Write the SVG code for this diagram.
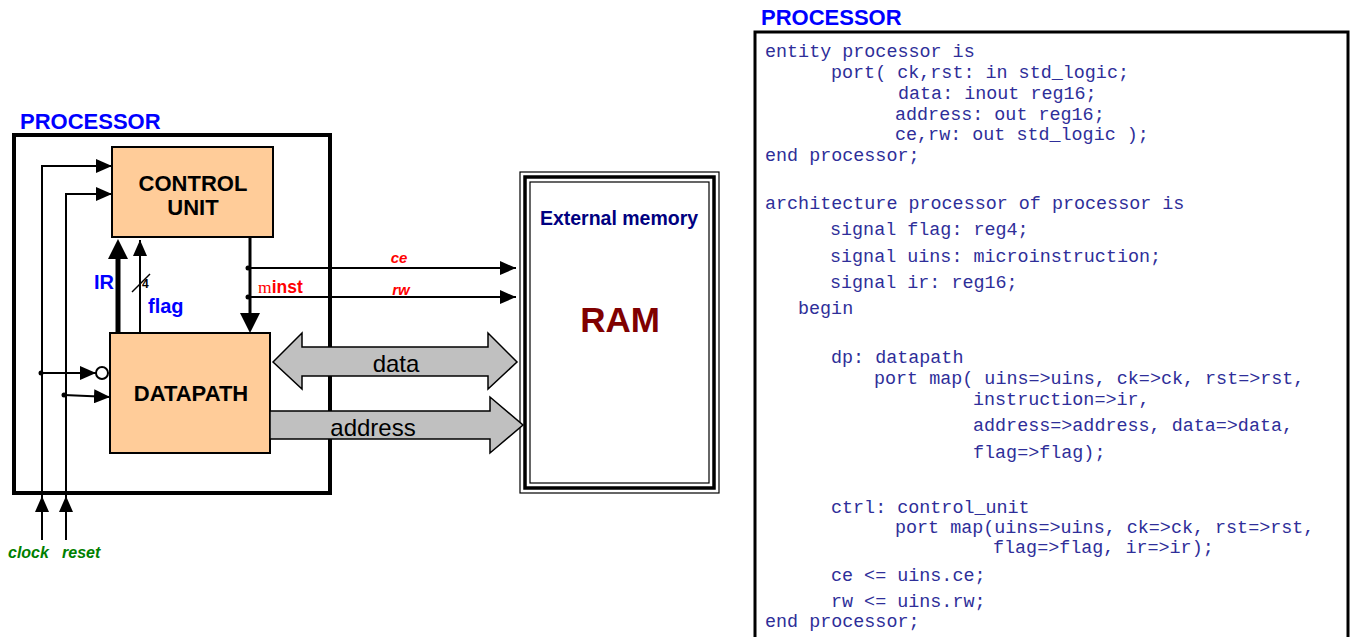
<svg xmlns="http://www.w3.org/2000/svg" width="1351" height="637" viewBox="0 0 1351 637">
  <style>
    .title { font-family: "Liberation Sans", Arial, sans-serif; font-weight: bold; font-size: 22px; fill: #0000FF; }
    .block { fill: #FFCC99; stroke: #000; stroke-width: 2; }
    .blocktxt { font-family: "Liberation Sans", Arial, sans-serif; font-weight: bold; font-size: 22px; fill: #000; text-anchor: middle; }
    .wire { fill: none; stroke: #000; stroke-width: 2; }
    .bus { fill: #C0C0C0; stroke: #000; stroke-width: 1.5; }
    .bustxt { font-family: "Liberation Sans", Arial, sans-serif; font-size: 24px; fill: #000; text-anchor: middle; }
    .sig { font-family: "Liberation Sans", Arial, sans-serif; font-weight: bold; font-style: italic; font-size: 15px; }
    .pin { font-family: "Liberation Sans", Arial, sans-serif; font-weight: bold; font-style: italic; font-size: 16px; fill: #008000; }
    .blue { font-family: "Liberation Sans", Arial, sans-serif; font-weight: bold; font-size: 20px; fill: #0000FF; }
    .code { font-family: "Liberation Mono", "Courier New", monospace; font-size: 18.4px; fill: #2E2E99; white-space: pre; }
  </style>
  <defs>
    <marker id="arr" viewBox="0 0 16 14" refX="16" refY="7" markerWidth="16" markerHeight="14" markerUnits="userSpaceOnUse" orient="auto">
      <path d="M0,0 L16,7 L0,14 Z" fill="#000"/>
    </marker>
  </defs>

  <rect width="1351" height="637" fill="#fff"/>

  <!-- processor outline -->
  <g id="processor">
    <text class="title" x="20" y="129">PROCESSOR</text>
    <rect x="14" y="135" width="316" height="358" fill="none" stroke="#000" stroke-width="4"/>
  </g>

  <!-- control unit -->
  <g id="control-unit">
    <rect class="block" x="112" y="147" width="161" height="90"/>
    <text class="blocktxt" x="193" y="191">CONTROL</text>
    <text class="blocktxt" x="193" y="215">UNIT</text>
  </g>

  <!-- datapath -->
  <g id="datapath">
    <rect class="block" x="110" y="333" width="160" height="120"/>
    <text class="blocktxt" x="191" y="401" font-size="23">DATAPATH</text>
  </g>

  <!-- external memory -->
  <g id="ram">
    <rect x="520" y="172" width="199" height="321" fill="#fff" stroke="#000" stroke-width="1.2"/>
    <rect x="525" y="177" width="189" height="311" fill="none" stroke="#000" stroke-width="3.5"/>
    <rect x="530" y="182" width="179" height="301" fill="none" stroke="#000" stroke-width="1.2"/>
    <text x="619" y="225" font-family="'Liberation Sans', Arial, sans-serif" font-weight="bold" font-size="19.5" fill="#000080" text-anchor="middle">External memory</text>
    <text x="620" y="332" font-family="'Liberation Sans', Arial, sans-serif" font-weight="bold" font-size="35" fill="#800000" text-anchor="middle">RAM</text>
  </g>

  <!-- connectors -->
  <g id="connectors">
    <!-- clock and reset into control unit -->
    <polyline class="wire" points="42,540 42,166 112,166" marker-end="url(#arr)"/>
    <polyline class="wire" points="66,540 66,194 112,194" marker-end="url(#arr)"/>
    <!-- external clock / reset entering the outline -->
    <line class="wire" x1="42" y1="540" x2="42" y2="496" marker-end="url(#arr)"/>
    <line class="wire" x1="66" y1="540" x2="66" y2="496" marker-end="url(#arr)"/>
    <!-- clock (inverted) and reset into datapath -->
    <line class="wire" x1="41" y1="373" x2="96" y2="373" marker-end="url(#arr)"/>
    <circle cx="102" cy="373" r="6" fill="#fff" stroke="#000" stroke-width="2"/>
    <circle cx="41" cy="373" r="2.5" fill="#000"/>
    <line class="wire" x1="64" y1="395" x2="110" y2="397" marker-end="url(#arr)"/>
    <circle cx="64" cy="395" r="2.5" fill="#000"/>

    <!-- IR bus (thick) -->
    <line x1="118" y1="333" x2="118" y2="256" stroke="#000" stroke-width="5"/>
    <path d="M108,259 L118,239 L128,259 Z" fill="#000"/>
    <text class="blue" x="94" y="289" font-size="19">IR</text>
    <!-- flag bus (4 bits) -->
    <line class="wire" x1="140" y1="333" x2="140" y2="240" marker-end="url(#arr)"/>
    <line x1="132" y1="292" x2="150" y2="274" stroke="#000" stroke-width="1.5"/>
    <text x="142" y="288" font-family="'Liberation Sans', Arial, sans-serif" font-weight="bold" font-size="12" fill="#000">4</text>
    <text class="blue" x="148" y="313">flag</text>

    <!-- microinstruction bus to datapath -->
    <line x1="250" y1="237" x2="250" y2="315" stroke="#000" stroke-width="3"/>
    <path d="M240,313 L250,333 L260,313 Z" fill="#000"/>
    <circle cx="248" cy="268" r="2.5" fill="#000"/>
    <circle cx="248" cy="297" r="2.5" fill="#000"/>
    <text x="258" y="293" font-size="17.5" fill="#FF0000"><tspan font-family="'Liberation Serif', serif">m</tspan><tspan font-family="'Liberation Sans', Arial, sans-serif" font-weight="bold">inst</tspan></text>

    <!-- ce / rw to memory -->
    <line class="wire" x1="248" y1="268" x2="516" y2="268" marker-end="url(#arr)"/>
    <line class="wire" x1="248" y1="297" x2="516" y2="297" marker-end="url(#arr)"/>
    <text class="sig" x="399" y="263" fill="#FF0000" text-anchor="middle">ce</text>
    <text class="sig" x="401" y="295" fill="#FF0000" text-anchor="middle">rw</text>

    <!-- data bus (bidirectional) -->
    <path class="bus" d="M273,362 L302,333 L302,347 L488,347 L488,333 L517,362 L488,389 L488,376 L302,376 L302,389 Z"/>
    <text class="bustxt" x="396" y="372">data</text>
    <!-- address bus -->
    <path class="bus" d="M270,411 L490,411 L490,397 L523,425 L490,453 L490,439 L270,439 Z"/>
    <text class="bustxt" x="373" y="436">address</text>
  </g>

  <!-- external pin labels -->
  <g id="pins">
    <text class="pin" x="8" y="558">clock</text>
    <text class="pin" x="62" y="558">reset</text>
  </g>

  <!-- VHDL listing -->
  <g id="vhdl">
    <text class="title" x="761" y="25">PROCESSOR</text>
    <rect x="755" y="32" width="593" height="610" fill="#fff" stroke="#000" stroke-width="3"/>
    <text class="code" x="765" y="57">entity processor is</text>
    <text class="code" x="831" y="78">port( ck,rst: in std_logic;</text>
    <text class="code" x="898" y="99">data: inout reg16;</text>
    <text class="code" x="895" y="120">address: out reg16;</text>
    <text class="code" x="895" y="140">ce,rw: out std_logic );</text>
    <text class="code" x="765" y="161">end processor;</text>
    <text class="code" x="765" y="209">architecture processor of processor is</text>
    <text class="code" x="830" y="235">signal flag: reg4;</text>
    <text class="code" x="830" y="262">signal uins: microinstruction;</text>
    <text class="code" x="830" y="288">signal ir: reg16;</text>
    <text class="code" x="798" y="314">begin</text>
    <text class="code" x="831" y="363">dp: datapath</text>
    <text class="code" x="874" y="384">port map( uins=&gt;uins, ck=&gt;ck, rst=&gt;rst,</text>
    <text class="code" x="973" y="405">instruction=&gt;ir,</text>
    <text class="code" x="973" y="431">address=&gt;address, data=&gt;data,</text>
    <text class="code" x="973" y="458">flag=&gt;flag);</text>
    <text class="code" x="831" y="513">ctrl: control_unit</text>
    <text class="code" x="895" y="533">port map(uins=&gt;uins, ck=&gt;ck, rst=&gt;rst,</text>
    <text class="code" x="993" y="553">flag=&gt;flag, ir=&gt;ir);</text>
    <text class="code" x="831" y="581">ce &lt;= uins.ce;</text>
    <text class="code" x="831" y="607">rw &lt;= uins.rw;</text>
    <text class="code" x="765" y="627">end processor;</text>
  </g>
</svg>
